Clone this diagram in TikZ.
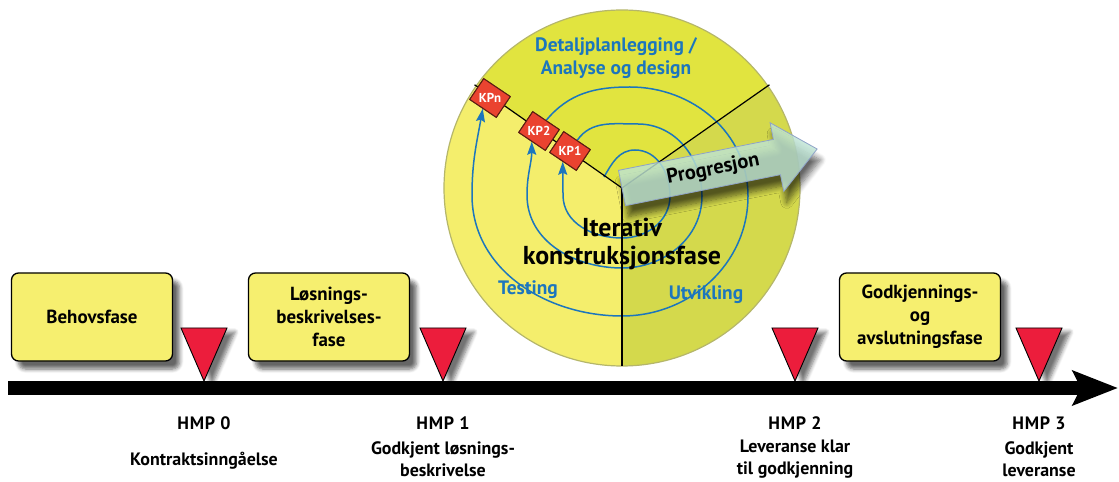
\documentclass[tikz,border=0pt]{standalone}
\usepackage{fontspec}
\setmainfont{PT Sans}
\usetikzlibrary{shadows.blur,arrows.meta}

\definecolor{phaseyellow}{HTML}{F6EF6F}
\definecolor{secleft}{HTML}{F4EE6C}
\definecolor{sectop}{HTML}{E1E43F}
\definecolor{secright}{HTML}{D4D94C}
\definecolor{rim}{HTML}{B5B66A}
\definecolor{spiral}{HTML}{1C76BD}
\definecolor{kpred}{HTML}{EA4330}
\definecolor{kpedge}{HTML}{5A1E14}
\definecolor{hmpred}{HTML}{EC1D3C}
\definecolor{progfill}{HTML}{BDE3D3}
\definecolor{progedge}{HTML}{8FA3C8}

\tikzset{
  phasebox/.style={draw=black, line width=1.3bp, rounded corners=7bp, fill=phaseyellow,
    minimum width=161bp, minimum height=88bp, align=center, inner sep=0pt,
    font=\bfseries\fontsize{19}{23}\selectfont,
    blur shadow={shadow xshift=7bp, shadow yshift=-8bp, shadow opacity=60,
      shadow blur steps=6, shadow blur radius=4bp}},
  milestone/.style={draw=black, line width=0.9bp, fill=hmpred,
    blur shadow={shadow xshift=8bp, shadow yshift=-4bp, shadow opacity=55,
      shadow blur steps=6, shadow blur radius=4bp}},
  kpbox/.style={draw=kpedge, line width=1bp, fill=kpred, rotate=-34,
    minimum width=32bp, minimum height=25bp, inner sep=0pt},
  kplabel/.style={text=white, inner sep=0pt, font=\bfseries\fontsize{13}{13}\selectfont},
  spiralarc/.style={draw=spiral, line width=1.5bp,
    -{Stealth[length=13bp, width=9bp, inset=2bp]}},
  sectorline/.style={draw=black, line width=1.2bp},
  hmplabel/.style={font=\bfseries\fontsize{18}{20}\selectfont\addfontfeature{LetterSpace=4}},
  hmpnote/.style={font=\bfseries\fontsize{18}{22.5}\selectfont, align=center},
  circtext/.style={text=spiral, align=center, font=\bfseries\fontsize{19.5}{23}\selectfont},
}

\begin{document}
\begin{tikzpicture}[x=1bp, y=1bp]
\useasboundingbox (0,0) rectangle (1119,-482);

% ---------- construction circle ----------
\coordinate (ctr) at (622,-188);
\fill[sectop]   (ctr) -- ++(35:178)  arc[start angle=35,  end angle=145, radius=178] -- cycle;
\fill[secleft]  (ctr) -- ++(145:178) arc[start angle=145, end angle=270, radius=178] -- cycle;
\fill[secright] (ctr) -- ++(270:178) arc[start angle=270, end angle=395, radius=178] -- cycle;
\draw[rim, line width=1.2bp] (ctr) circle[radius=178];

% checkpoints on the boundary between design and testing
\node[kpbox] (kp1) at (570,-151) {};
\node[kpbox] (kp2) at (539,-131) {};
\node[kpbox] (kpn) at (490,-98) {};

% spiral of iterations
\coordinate (sp0) at (604,-177);
\draw[spiralarc] (sp0) to[out=60,in=180] (635,-150) to[out=0,in=90] (670,-196)
  to[out=-90,in=0] (622,-238) to[out=180,in=-90] (563,-195) to[out=90,in=-90] (kp1.south);
\draw[spiralarc] (kp1.north) to[out=55,in=180] (638,-124) to[out=0,in=90] (702,-196)
  to[out=-90,in=0] (622,-268) to[out=180,in=-90] (527,-195) to[out=90,in=-90] (kp2.south);
\draw[spiralarc] (kp2.north) to[out=50,in=180] (630,-87) to[out=0,in=90] (748,-196)
  to[out=-90,in=0] (622,-316) to[out=180,in=-90] (472,-195) to[out=90,in=-100] (kpn.south);

% sector boundaries
\draw[sectorline] (ctr) -- ++(145:180);
\draw[sectorline] (ctr) -- ++(35:180);
\draw[sectorline] (ctr) -- ++(270:178);

% checkpoint boxes drawn over the boundary line
\node[kpbox] at (kp1) {};
\node[kpbox] at (kp2) {};
\node[kpbox] at (kpn) {};
\node[kplabel] (kp1t) at (kp1.center) {KP1};
\node[kplabel] (kp2t) at (kp2.center) {KP2};
\node[kplabel] (kpnt) at (kpn.center) {KPn};

% progression arrow
\begin{scope}[shift={(ctr)}, rotate=11.3]
  \path[draw=progedge, line width=0.8bp, fill=progfill, fill opacity=0.82,
    blur shadow={shadow xshift=3bp, shadow yshift=-11bp, shadow opacity=60,
      shadow blur steps=8, shadow blur radius=6bp}]
    (0,18) -- (158,18) -- (158,35) -- (199,0) -- (158,-35) -- (158,-18) -- (0,-18) -- cycle;
\end{scope}
\path (ctr) ++(11.3:93) node[rotate=11.3, inner sep=0pt, font=\bfseries\fontsize{20.5}{20.5}\selectfont] (prog) {Progresjon};

% circle labels
\node[circtext] (detalj) at (616,-58) {Detaljplanlegging /\\Analyse og design};
\node[align=center, font=\bfseries\fontsize{26}{28}\selectfont] (iter) at (622,-244) {Iterativ\\konstruksjonsfase};
\node[circtext] (testing) at (528,-290) {Testing};
\node[circtext] (utv) at (706,-295) {Utvikling};

% ---------- time line ----------
\coordinate (tlstart) at (8,-388);
\coordinate (tlend) at (1118,-388);
\draw[line width=14bp, -{Stealth[length=45bp, width=34bp, inset=8bp]}] (tlstart) -- (tlend);

% phases
\node[phasebox] (behov) at (92,-317) {Behovsfase};
\node[phasebox] (losning) at (329,-317) {Løsnings-\\beskrivelses-\\fase};
\node[phasebox] (godkj) at (920,-317) {Godkjennings-\\og\\avslutningsfase};

% milestones
\foreach \mx in {204,443,795,1039}{
  \path[milestone] (\mx-23,-328) -- (\mx+23,-328) -- (\mx,-381) -- cycle;
}

% milestone labels
\node[hmplabel] (hmp0) at (204,-423) {HMP 0};
\node[hmplabel] (hmp1) at (443,-423) {HMP 1};
\node[hmplabel] (hmp2) at (795,-423) {HMP 2};
\node[hmplabel] (hmp3) at (1039,-423) {HMP 3};
\node[hmpnote] (note0) at (204,-461) {Kontraktsinngåelse};
\node[hmpnote] (note1) at (443,-459) {Godkjent løsnings-\\beskrivelse};
\node[hmpnote] (note2) at (795,-459) {Leveranse klar\\til godkjenning};
\node[hmpnote] (note3) at (1039,-459) {Godkjent\\leveranse};
\end{tikzpicture}
\end{document}
